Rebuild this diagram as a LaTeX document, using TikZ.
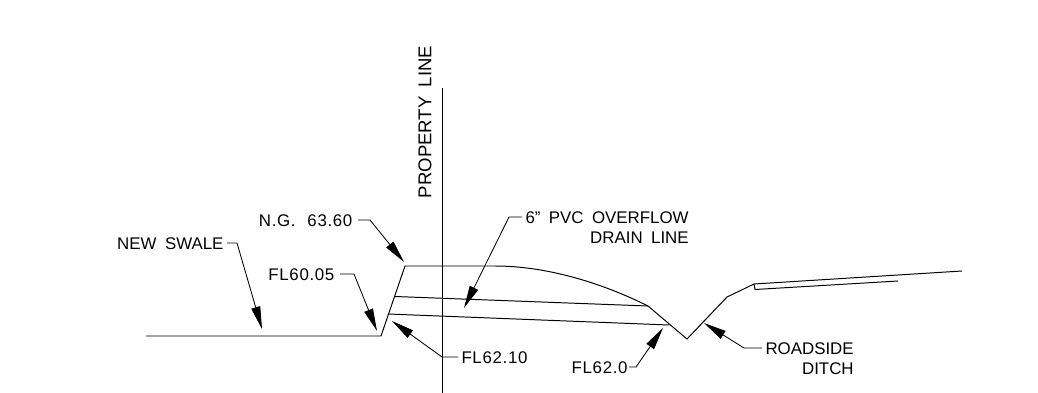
\documentclass[tikz,border=0pt]{standalone}
\usepackage{fontspec}
\setmainfont{Liberation Sans}[WordSpace=1.8]
\newfontfamily\levelfont{Liberation Sans}[LetterSpace=4,WordSpace=2.2]
\usetikzlibrary{arrows.meta}
\tikzset{
    profile/.style = {draw, line width=0.7pt},
    leader/.style = {draw, line width=0.6pt, -{Triangle[length=16pt,width=6.5pt]}},
    callout/.style = {inner sep=2.5pt, outer sep=0pt, text height=9pt, text depth=0pt,
        font=\fontsize{12}{14}\selectfont},
    level/.style = {callout, font=\levelfont\fontsize{12}{14}\selectfont},
}

\begin{document}
\begin{tikzpicture}[x=0.025cm, y=-0.025cm]
        \useasboundingbox (0,0) rectangle (1038,393);

        % ground and pipe
        \draw[profile] (146,336) -- (381,336) -- (405,266) -- (495,266)
            .. controls (545,266) and (600,282) .. (648,306)
            -- (687,339) -- (727,297) -- (754,284) -- (962,271);
        \draw[profile] (754,284) -- (755,289.5) -- (898,281);
        \draw[profile] (395,296.5) -- (648,306);
        \draw[profile] (388,314) -- (669,325);
        \draw[profile] (442,88) -- (442,393);

        \node[callout, rotate=90, font=\fontsize{13.2}{16}\selectfont] (propline) at (425,122) {PROPERTY LINE};

        \coordinate (swaletip) at (262,329);
        \coordinate (ngtip) at (404,262);
        \coordinate (fllowtip) at (377,331);
        \coordinate (flpipetip) at (392,321);
        \coordinate (pvctip) at (464,308);
        \coordinate (flendtip) at (663,328);
        \coordinate (ditchtip) at (704,323);

        \node[callout, anchor=east] (swale) at (227,243) {NEW SWALE};
        \node[level, anchor=east, inner sep=4pt] (ng) at (358,220) {N.G. 63.60};
        \node[level, anchor=east, inner sep=4pt] (fllow) at (340,274) {FL60.05};
        \node[level, anchor=west] (flpipe) at (458,357) {FL62.10};
        \node[level, anchor=east, inner sep=1pt] (flend) at (629,367) {FL62.0};
        \node[callout, anchor=west] (pvcone) at (522,217) {6” PVC OVERFLOW};
        \node[callout, anchor=north east] (pvctwo) at (pvcone.south east) {DRAIN LINE};
        \node[callout, anchor=west] (ditchone) at (762,348) {ROADSIDE};
        \node[callout, anchor=north east] (ditchtwo) at (ditchone.south east) {DITCH};

        \draw[leader] (swale.east) -- ++(10,0) -- (swaletip);
        \draw[leader] (ng.east) -- ++(12,0) -- (ngtip);
        \draw[leader] (fllow.east) -- ++(14,0) -- (fllowtip);
        \draw[leader] (flpipe.west) -- ++(-16,0) -- (flpipetip);
        \draw[leader] (flend.east) -- ++(7,0) -- (flendtip);
        \draw[leader] (pvcone.west) -- ++(-13,0) -- (pvctip);
        \draw[leader] (ditchone.west) -- ++(-18,0) -- (ditchtip);
    \end{tikzpicture}
\end{document}
